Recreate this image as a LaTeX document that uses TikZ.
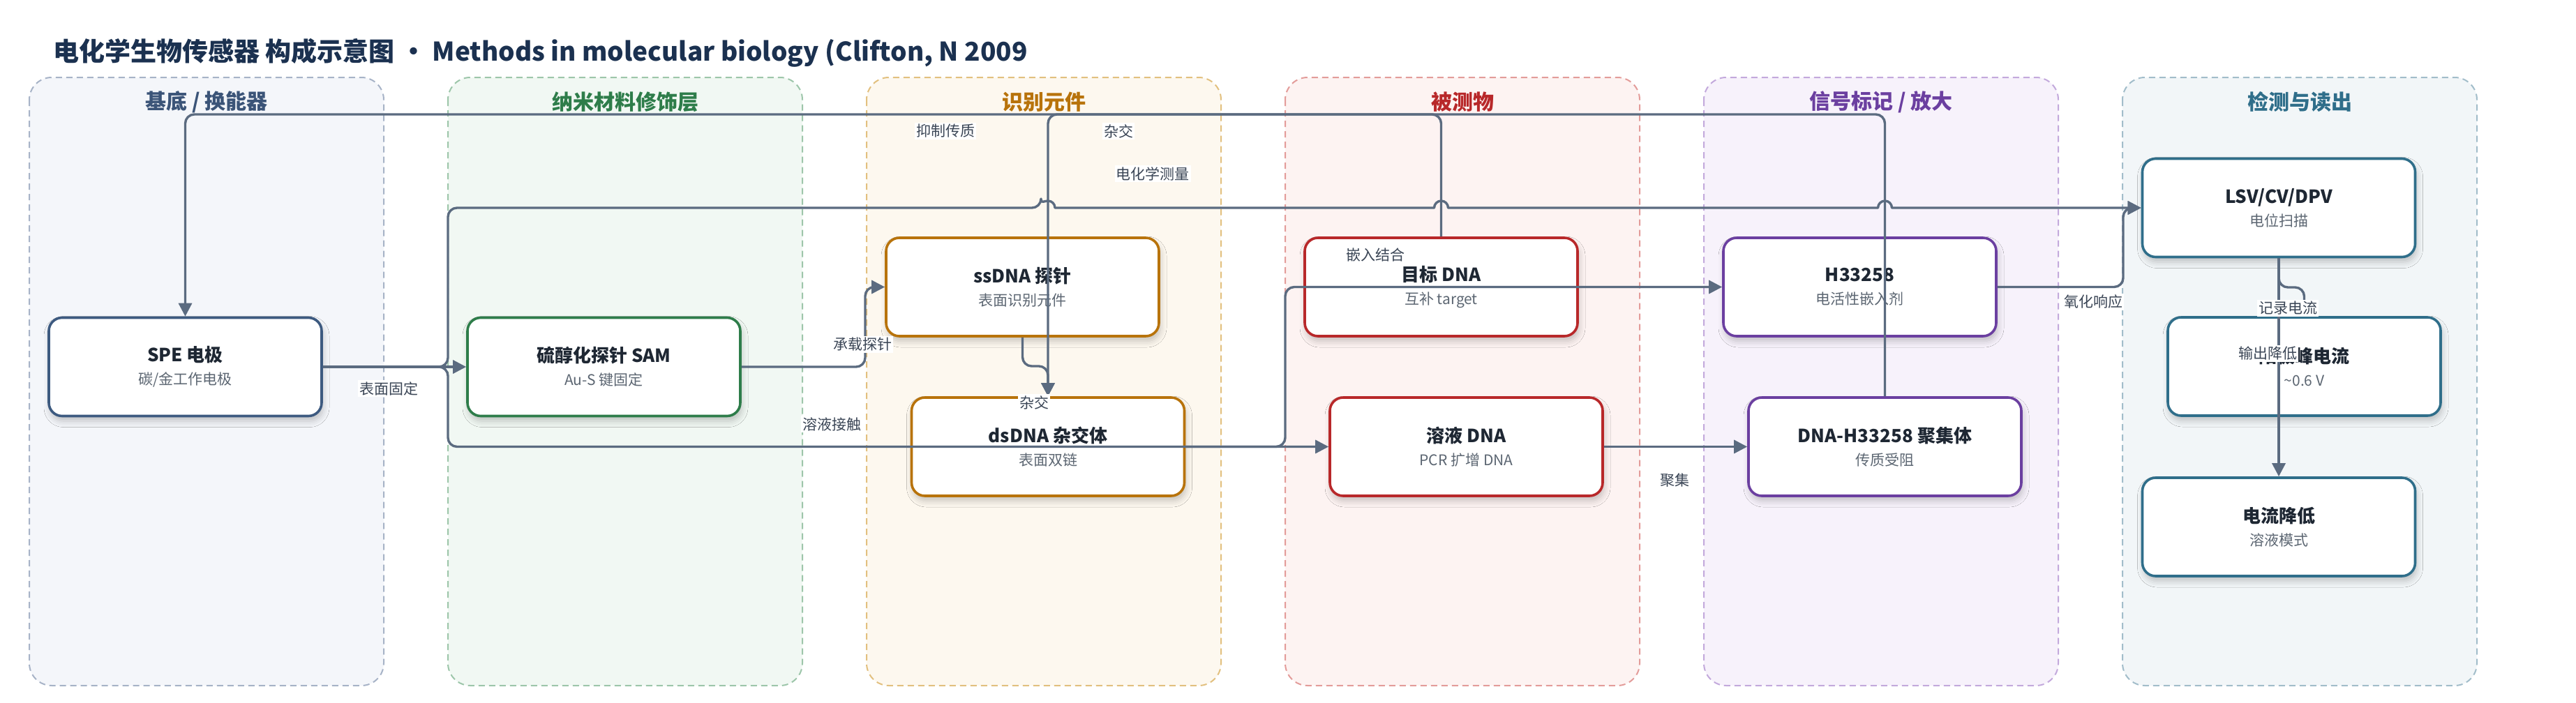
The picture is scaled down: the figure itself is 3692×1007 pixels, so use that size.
\documentclass[tikz,border=0pt]{standalone}
\usepackage{fontspec}
\setmainfont{Noto Sans CJK SC}
\usetikzlibrary{arrows.meta,shadows.blur,calc}
\definecolor{edgec}{HTML}{5B6B80}
\definecolor{titlec}{HTML}{1B3150}
\definecolor{nodet}{HTML}{1E2733}
\definecolor{subc}{HTML}{5C6672}
\definecolor{lblc}{HTML}{3A4555}
\definecolor{fA}{HTML}{F4F6FA}\definecolor{bA}{HTML}{A7B3C7}\definecolor{tA}{HTML}{3B5478}\definecolor{nA}{HTML}{3D5A80}
\definecolor{fB}{HTML}{F1F8F3}\definecolor{bB}{HTML}{9DC6AA}\definecolor{tB}{HTML}{2E7D4A}\definecolor{nB}{HTML}{2E7D4A}
\definecolor{fC}{HTML}{FDF8EF}\definecolor{bC}{HTML}{E2C07F}\definecolor{tC}{HTML}{B8730B}\definecolor{nC}{HTML}{B8730B}
\definecolor{fD}{HTML}{FDF3F2}\definecolor{bD}{HTML}{E39C9A}\definecolor{tD}{HTML}{B8282A}\definecolor{nD}{HTML}{B8282A}
\definecolor{fE}{HTML}{F7F2FB}\definecolor{bE}{HTML}{C3A9DC}\definecolor{tE}{HTML}{6B3FA0}\definecolor{nE}{HTML}{6B3FA0}
\definecolor{fF}{HTML}{F2F6F8}\definecolor{bF}{HTML}{A2BDCA}\definecolor{tF}{HTML}{2F6E8A}\definecolor{nF}{HTML}{2F6E8A}
\begin{document}
\begin{tikzpicture}[x=1pt,y=-1pt,
  lane/.style={draw=#1, dash pattern=on 9pt off 6pt, line width=2pt, rounded corners=32pt},
  lanetitle/.style={text=#1, font=\fontsize{30}{34}\selectfont\bfseries},
  box/.style={draw=#1, line width=3.6pt, fill=white, rounded corners=19pt,
    minimum width=391pt, minimum height=141pt, align=center, inner sep=0pt,
    font=\fontsize{21}{33}\selectfont, text=subc,
    blur shadow={shadow xshift=2pt, shadow yshift=-7pt, shadow blur radius=9pt, shadow opacity=22}},
  edge/.style={draw=edgec, line width=3.4pt, rounded corners=13pt, line join=round,
    -{Triangle[length=19pt,width=19pt]}},
  lbl/.style={fill=white, inner sep=2pt, font=\fontsize{21}{24}\selectfont, text=lblc}]
\useasboundingbox (0,0) rectangle (3692,1007);
\fill[white] (0,0) rectangle (3692,1007);
% title
\node[anchor=west, text=titlec, font=\fontsize{37}{44}\selectfont\bfseries, inner sep=0pt] (title) at (76,76)
  {电化学生物传感器 构成示意图 · Methods in molecular biology (Clifton, N 2009};
% lanes
\draw[lane=bA, fill=fA] (42,111) rectangle (550,983);
\draw[lane=bB, fill=fB] (642,111) rectangle (1150,983);
\draw[lane=bC, fill=fC] (1242,111) rectangle (1750,983);
\draw[lane=bD, fill=fD] (1842,111) rectangle (2350,983);
\draw[lane=bE, fill=fE] (2442,111) rectangle (2950,983);
\draw[lane=bF, fill=fF] (3042,111) rectangle (3550,983);
\node[lanetitle=tA] (l1) at (296,146) {基底 / 换能器};
\node[lanetitle=tB] (l2) at (896,146) {纳米材料修饰层};
\node[lanetitle=tC] (l3) at (1496,146) {识别元件};
\node[lanetitle=tD] (l4) at (2096,146) {被测物};
\node[lanetitle=tE] (l5) at (2696,146) {信号标记 / 放大};
\node[lanetitle=tF] (l6) at (3296,146) {检测与读出};
% nodes
\newcommand{\ttl}[1]{{\fontsize{26}{33}\selectfont\bfseries\color{nodet}#1}}
\node[box=nA] (spe) at (265.5,526) {\ttl{SPE 电极}\\碳/金工作电极};
\node[box=nB] (sam) at (865.5,526) {\ttl{硫醇化探针 SAM}\\Au-S 键固定};
\node[box=nC] (ss) at (1465.5,411.5) {\ttl{ssDNA 探针}\\表面识别元件};
\node[box=nC] (ds) at (1502,640.5) {\ttl{dsDNA 杂交体}\\表面双链};
\node[box=nD] (tgt) at (2065.5,411.5) {\ttl{目标 DNA}\\互补 target};
\node[box=nD] (sol) at (2101.5,640.5) {\ttl{溶液 DNA}\\PCR 扩增 DNA};
\node[box=nE] (h) at (2665.5,411.5) {\ttl{H33258}\\电活性嵌入剂};
\node[box=nE] (agg) at (2701.5,640.5) {\ttl{DNA-H33258 聚集体}\\传质受阻};
\node[box=nF] (lsv) at (3266,298) {\ttl{LSV/CV/DPV}\\电位扫描};
\node[box=nF] (peak) at (3302.5,525.5) {\ttl{阳极峰电流}\\\textasciitilde0.6 V};
\node[box=nF] (low) at (3266,755.5) {\ttl{电流降低}\\溶液模式};
% edges
\draw[edge] (spe.east) -- (sam.west);
\draw[edge] (sam.east) -- (1240,526) -- (1240,411.5) -- (ss.west);
\draw[edge] (ss.south) -- (1465.5,525) -- (1502,525) -- (ds.north);
\draw[edge] (tgt.north) -- (2065.5,164) -- (1502,164) -- (ds.north);
\draw[edge] (agg.north) -- (2701.5,164) -- (265.5,164) -- (spe.north);
\draw[edge] (spe.east) -- (642,526) -- (642,298) -- (1492,298) [sharp corners] arc[start angle=180,end angle=360,radius=10]
  -- (2055.5,298) arc[start angle=180,end angle=360,radius=10]
  -- (2691.5,298) arc[start angle=180,end angle=360,radius=10] -- (lsv.west);
\draw[edge] (spe.east) -- (642,526) -- (642,640.5) -- (sol.west);
\draw[edge] (ds.east) -- (1842,640.5) -- (1842,411.5) -- (h.west);
\draw[edge] (sol.east) -- (agg.west);
\draw[edge] (h.east) -- (3043,411.5) -- (3043,298) -- (lsv.west);
\draw[edge] (lsv.south) -- (3266,412) -- (3302.5,412) -- (peak.north);
\draw[edge] (lsv.south) -- (low.north);
% labels
\node[lbl] (e1) at (557,557) {表面固定};
\node[lbl] (e2) at (1236,494) {承载探针};
\node[lbl] (e3) at (1482,577) {杂交};
\node[lbl] (e4) at (1603,188) {杂交};
\node[lbl] (e5) at (1355,188) {抑制传质};
\node[lbl] (e6) at (1652,249) {电化学测量};
\node[lbl] (e7) at (1192,608) {溶液接触};
\node[lbl] (e8) at (1971,365) {嵌入结合};
\node[lbl] (e9) at (2400,689) {聚集};
\node[lbl] (e10) at (3000,433) {氧化响应};
\node[lbl] (e11) at (3279,442) {记录电流};
\node[lbl] (e12) at (3250,507) {输出降低};
\end{tikzpicture}
\end{document}
